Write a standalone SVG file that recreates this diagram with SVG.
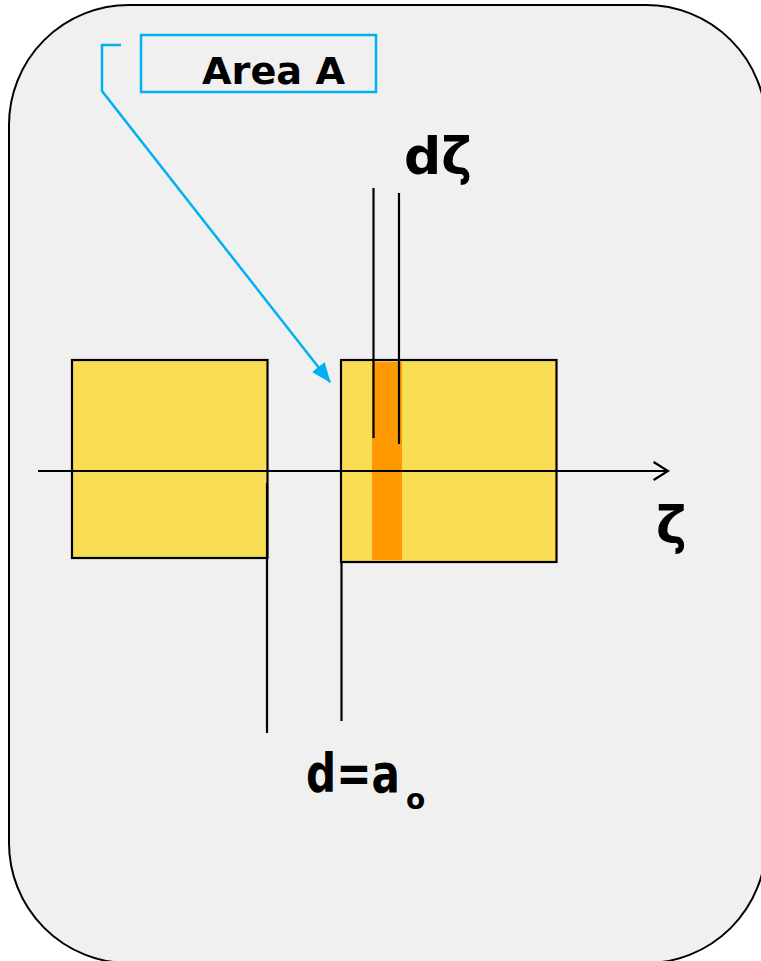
<svg xmlns="http://www.w3.org/2000/svg" width="761" height="961" viewBox="0 0 761 961">
<style>
.blk{stroke:#000;stroke-width:2.2;fill:none}
.ylw{fill:#f9de55;stroke:#000;stroke-width:2.2}
.cy{stroke:#00b0f0;stroke-width:2.5;fill:none}
.t{font-family:"DejaVu Sans","Liberation Sans",sans-serif;font-weight:bold;fill:#000}
</style>
<defs>
<marker id="cyArrow" viewBox="0 0 20 16" refX="19" refY="8" markerWidth="20" markerHeight="16" orient="auto" markerUnits="userSpaceOnUse">
<path d="M0,0 L20,8 L0,16 z" fill="#00b0f0"/>
</marker>
<marker id="openArrow" viewBox="0 0 20 24" refX="18" refY="12" markerWidth="18" markerHeight="24" orient="auto" markerUnits="userSpaceOnUse">
<path d="M2,2 L18,12 L2,22" fill="none" stroke="#000" stroke-width="2.5"/>
</marker>
</defs>
<rect id="background" x="9" y="5" width="757" height="958" rx="120" ry="120" fill="#f0f0f0" stroke="#000" stroke-width="2"/>
<g id="left-block"><rect class="ylw" x="72" y="360" width="195.5" height="198"/></g>
<g id="right-block"><rect class="ylw" x="341" y="360" width="215.5" height="202"/></g>
<g id="strip"><rect x="372" y="362" width="30" height="198" fill="#ff9900"/></g>
<g id="area-label">
<rect x="141" y="35" width="235" height="57" fill="none" stroke="#00b0f0" stroke-width="2.5"/>
<text class="t" x="202" y="84" font-size="37" textLength="143" lengthAdjust="spacingAndGlyphs">Area A</text>
</g>
<g id="dzeta-label"><text class="t" x="404" y="174" font-size="52">dζ</text></g>
<g id="zeta-label"><text class="t" x="656" y="543" font-size="52">ζ</text></g>
<g id="gap-label"><text class="t" font-size="54" transform="translate(306,792) scale(0.78,1)">d=a</text><text class="t" x="406" y="809" font-size="28">o</text></g>
<g id="connectors">
<line class="blk" x1="38" y1="471" x2="668" y2="471" marker-end="url(#openArrow)"/>
<line class="blk" x1="373.5" y1="188" x2="373.5" y2="438"/>
<line class="blk" x1="399" y1="193" x2="399" y2="444"/>
<line class="blk" x1="267" y1="483" x2="267" y2="733"/>
<line class="blk" x1="341.5" y1="562" x2="341.5" y2="721"/>
<polyline class="cy" points="121,45 102,45 102,91 330,382" marker-end="url(#cyArrow)"/>
</g>
</svg>
